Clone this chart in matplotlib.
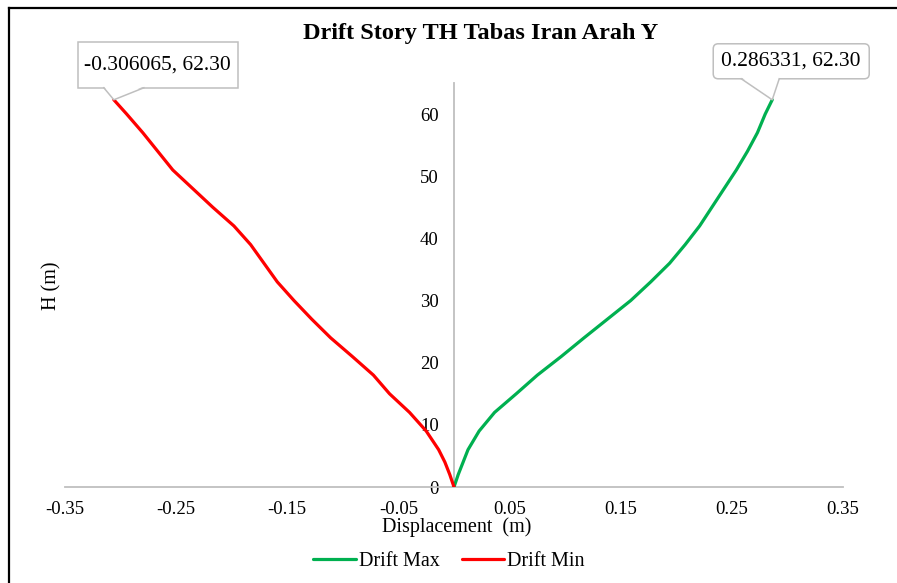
import numpy as np
import matplotlib.pyplot as plt
from matplotlib.lines import Line2D
from matplotlib.patches import FancyBboxPatch, Polygon
from matplotlib.transforms import Affine2D

plt.rcParams['font.family'] = ['Liberation Serif', 'DejaVu Serif']

# story heights (m) and drift values (m)
height = [0, 2, 4, 6, 9, 12, 15, 18, 21, 24, 27, 30, 33, 36, 39, 42, 45, 48,
          51, 54, 57, 60, 62.3]
drift_max = [0, 0.0038, 0.0082, 0.0126, 0.0226, 0.0365, 0.056, 0.075, 0.0965,
             0.117, 0.138, 0.159, 0.177, 0.194, 0.208, 0.221, 0.232, 0.243,
             0.254, 0.264, 0.273, 0.280, 0.286331]
drift_min = [0, -0.0038, -0.0082, -0.0138, -0.0250, -0.040, -0.058, -0.0725,
             -0.0915, -0.111, -0.128, -0.144, -0.159, -0.171, -0.183, -0.198,
             -0.217, -0.235, -0.253, -0.2665, -0.280, -0.2945, -0.306065]

x_ticks = [-0.35, -0.25, -0.15, -0.05, 0.05, 0.15, 0.25, 0.35]
y_ticks = [0, 10, 20, 30, 40, 50, 60]

W, H = 897, 583
fig = plt.figure(figsize=(W / 100, H / 100), dpi=100)
ax = fig.add_axes([65 / W, (H - 487) / H, 778 / W, 404 / H])

ax.plot(drift_max, height, color='#00B050', lw=2.3, label='Drift Max',
        solid_capstyle='round', solid_joinstyle='round', zorder=3)
ax.plot(drift_min, height, color='#FF0000', lw=2.3, label='Drift Min',
        solid_capstyle='round', solid_joinstyle='round', zorder=3)

ax.set_xlim(-0.35, 0.35)
ax.set_ylim(0, 65)
ax.set_xticks(x_ticks)
ax.set_xticklabels([f'{v:.2f}' for v in x_ticks])
ax.set_yticks(y_ticks)

for s in ['top', 'right']:
    ax.spines[s].set_visible(False)
ax.spines['left'].set_position(('data', 0))
for s in ['left', 'bottom']:
    ax.spines[s].set_color('#BFBFBF')
    ax.spines[s].set_linewidth(1.3)
ax.tick_params(axis='x', length=0, pad=10, labelsize=13.5)
ax.tick_params(axis='y', length=0, pad=11, labelsize=13.5)


def callout(x, y, box, base, text_off, rounded):
    # box: (x0, x1, y0, y1) pixel offsets from the point, base: pointer x offsets
    tr = Affine2D().translate(*ax.transData.transform((x, y)))
    x0, x1, y0, y1 = box
    style = 'round,pad=0,rounding_size=5' if rounded else 'square,pad=0'
    ax.add_patch(FancyBboxPatch((x0, y0), x1 - x0, y1 - y0, boxstyle=style,
                                fc='white', ec='#BFBFBF', lw=1.1,
                                transform=tr, clip_on=False, zorder=5))
    b0, b1 = base
    ax.add_patch(Polygon([(b0, y0 + 1.5), (0, 0), (b1, y0 + 1.5)], closed=True,
                         fc='white', ec='none', transform=tr, clip_on=False, zorder=6))
    ax.add_line(Line2D([b0, 0, b1], [y0, 0, y0], color='#BFBFBF', lw=1.1,
                       transform=tr, clip_on=False, zorder=6))
    ax.annotate(f'{x:.6f}, {y:.2f}', xy=(x, y), xytext=text_off,
                textcoords='offset pixels', ha='center', va='center',
                fontsize=15.5, annotation_clip=False, zorder=7)


callout(drift_min[-1], height[-1], (-36, 124, 12, 58), (-10, 30), (44, 35), False)
callout(drift_max[-1], height[-1], (-59, 97, 21, 56), (-31, 7), (19, 38.5), True)

fig.text(481 / W, 1 - 33 / H, 'Drift Story TH Tabas Iran Arah Y', ha='center', va='center',
         fontsize=17.5, fontweight='bold')
fig.text(457 / W, 1 - 527 / H, 'Displacement  (m)', ha='center', va='center', fontsize=14.5)
fig.text(52 / W, 1 - 286 / H, 'H (m)', ha='center', va='center', fontsize=14.5, rotation=90)

fig.legend(loc='center', bbox_to_anchor=(449 / W, 1 - 561 / H), ncol=2, frameon=False,
           fontsize=14.5, handlelength=2.1, handletextpad=0.15, columnspacing=1.1)

# outer frame (top and left edges)
fig.add_artist(Line2D([9 / W, 9 / W], [0, 1 - 8 / H], color='black', lw=1.6))
fig.add_artist(Line2D([9 / W, 1], [1 - 8 / H, 1 - 8 / H], color='black', lw=1.6))

fig.savefig('out.png', dpi=100)
